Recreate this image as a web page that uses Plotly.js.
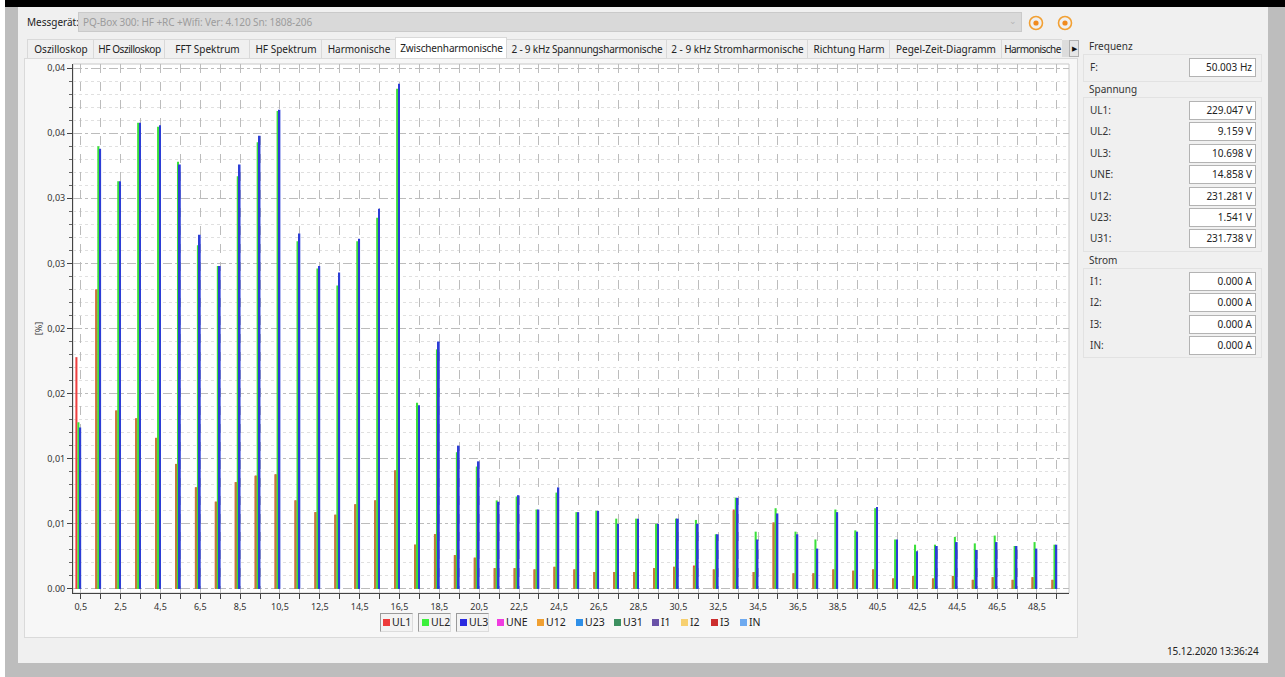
<!DOCTYPE html>
<html><head><meta charset="utf-8">
<script src="https://cdn.plot.ly/plotly-3.0.1.min.js"></script>
<style>
body{margin:0;width:1285px;height:677px;position:relative;overflow:hidden;background:#bdbdbd;font-family:"Noto Sans",sans-serif;font-size:10px;color:#222;}
.abs{position:absolute;}
#topbar{left:5px;top:0;width:1280px;height:7px;background:#000;}
#leftwhite{left:0;top:0;width:5px;height:677px;background:#fff;}
#win{left:18px;top:7px;width:1250px;height:656px;background:#f0f0f0;}
#combo{left:78px;top:12px;width:944px;height:20px;background:#d9d9d9;border:1px solid #cacaca;box-sizing:border-box;color:#9c9c9c;line-height:18px;padding-left:4px;white-space:nowrap;letter-spacing:-0.1px;}
#tabbar{left:0;top:0;width:1062px;height:60px;overflow:hidden;}
.tab{position:absolute;top:39px;height:20px;border:1px solid #d9d9d9;border-bottom:none;box-sizing:border-box;background:#f0f0f0;line-height:18px;white-space:nowrap;color:#222;overflow:hidden;}
.tab span{position:absolute;left:7px;top:0;}
.tab.sel{top:37px;height:22px;background:#fff;line-height:20px;}
#panel{left:24px;top:58px;width:1054px;height:580px;border:1px solid #dadada;box-sizing:border-box;background:#f7f7f7;}
#chart{left:24px;top:58px;width:1054px;height:580px;}
.gbox{border:1px solid #e2e2e2;box-sizing:border-box;}
.glabel{color:#333;line-height:14px;}
.rlabel{left:1090px;color:#333;line-height:15px;}
.tbox{left:1189px;width:67px;height:19px;background:#fff;border:1px solid #b3b3b3;box-sizing:border-box;text-align:right;padding-right:3px;line-height:17px;color:#222;}
.leg{top:614px;height:18px;line-height:17px;font-size:10.5px;color:#222;}
.legsq{position:absolute;width:7px;height:7px;top:5px;}
.legbox{top:613px;height:19px;border-top:1px solid #9a9a9a;border-left:1px solid #9a9a9a;border-right:1px solid #dcdcdc;border-bottom:1px solid #dcdcdc;box-sizing:border-box;background:#f3f3f3;}
</style></head><body>
<div id="leftwhite" class="abs"></div>
<div id="topbar" class="abs"></div>
<div id="win" class="abs"></div>
<div class="abs" style="left:27px;top:15px;line-height:14px;color:#222;">Messgerät:</div>
<div id="combo" class="abs">PQ-Box 300: HF +RC +Wifi: Ver: 4.120 Sn: 1808-206</div>
<div class="abs" style="left:1009px;top:14px;color:#b5b5b5;font-size:9px;">&#8964;</div>
<svg class="abs" style="left:1026px;top:13px;" width="50" height="20">
<circle cx="10" cy="10" r="6.5" fill="none" stroke="#f2a033" stroke-width="1.6"/><circle cx="10" cy="10" r="2.6" fill="#f08a1e"/>
<circle cx="39" cy="10" r="6.5" fill="none" stroke="#f2a033" stroke-width="1.6"/><circle cx="39" cy="10" r="2.6" fill="#f08a1e"/>
</svg>
<div id="tabbar" class="abs"></div>
<div class="abs" style="left:1062px;top:40px;width:7px;height:17px;background:#dcdcdc;"></div>
<div class="abs" style="left:1069px;top:40px;width:10px;height:17px;background:#e6e6e6;border:1px solid #b0b0b0;box-sizing:border-box;font-size:7px;line-height:15px;text-align:center;color:#111;">&#9654;</div>
<div id="panel" class="abs"></div>
<div id="chart" class="abs"></div>
<div id="legend"></div>
<div id="side"></div>
<div class="abs" style="left:1167px;top:644px;line-height:14px;color:#222;letter-spacing:-0.1px;">15.12.2020 13:36:24</div>
<script>
// ---- data ----
const groups = [0.5,1.5,2.5,3.5,4.5,5.5,6.5,7.5,8.5,9.5,10.5,11.5,12.5,13.5,14.5,15.5,16.5,17.5,18.5,19.5,20.5,21.5,22.5,23.5,24.5,25.5,26.5,27.5,28.5,29.5,30.5,31.5,32.5,33.5,34.5,35.5,36.5,37.5,38.5,39.5,40.5,41.5,42.5,43.5,44.5,45.5,46.5,47.5,48.5,49.5];
const xTickText = ["0,5","","2,5","","4,5","","6,5","","8,5","","10,5","","12,5","","14,5","","16,5","","18,5","","20,5","","22,5","","24,5","","26,5","","28,5","","30,5","","32,5","","34,5","","36,5","","38,5","","40,5","","42,5","","44,5","","46,5","","48,5",""];
const yTickVals = [0,0.005,0.01,0.015,0.02,0.025,0.03,0.035,0.04];
const yTickText = ["0.00","0,01","0,01","0,02","0,02","0,03","0,03","0,04","0,04"];
const yMinorVals = [0.001,0.002,0.003,0.004,0.006,0.007,0.008,0.009,0.011,0.012,0.013,0.014,0.016,0.017,0.018,0.019,0.021,0.022,0.023,0.024,0.026,0.027,0.028,0.029,0.031,0.032,0.033,0.034,0.036,0.037,0.038,0.039];
const ul1 = [0.0178,0.0230,0.0137,0.0131,0.0116,0.0096,0.0078,0.0067,0.0082,0.0087,0.0088,0.0068,0.0059,0.0057,0.0065,0.0068,0.0091,0.0034,0.0042,0.0026,0.0024,0.0016,0.0016,0.0015,0.0017,0.0015,0.0013,0.0013,0.0013,0.0016,0.0017,0.0018,0.0015,0.0061,0.0013,0.0051,0.0012,0.0012,0.0015,0.0014,0.0015,0.0008,0.0010,0.0008,0.0010,0.0007,0.0009,0.0007,0.0009,0.0007];
const u12 = [0,0.0230,0.0137,0.0131,0.0116,0.0096,0.0078,0.0067,0.0082,0.0087,0.0088,0.0068,0.0059,0.0057,0.0065,0.0068,0.0091,0.0034,0.0042,0.0026,0.0024,0.0016,0.0016,0.0015,0.0017,0.0015,0.0013,0.0013,0.0013,0.0016,0.0017,0.0017,0.0015,0.0060,0.0013,0.0051,0.0012,0.0012,0.0015,0.0014,0.0015,0.0008,0.0010,0.0008,0.0010,0.0007,0.0009,0.0007,0.0009,0.0007];
const ul2 = [0.0128,0.0340,0.0313,0.0358,0.0355,0.0328,0.0264,0.0248,0.0317,0.0343,0.0367,0.0267,0.0246,0.0233,0.0267,0.0285,0.0384,0.0143,0.0184,0.0105,0.0094,0.0068,0.0071,0.0061,0.0074,0.0059,0.0060,0.0054,0.0054,0.0050,0.0054,0.0053,0.0042,0.0070,0.0044,0.0062,0.0044,0.0038,0.0061,0.0045,0.0062,0.0038,0.0034,0.0034,0.0040,0.0035,0.0041,0.0033,0.0036,0.0034];
const ul3 = [0.0124,0.0338,0.0313,0.0358,0.0356,0.0326,0.0272,0.0248,0.0326,0.0348,0.0368,0.0273,0.0248,0.0243,0.0269,0.0292,0.0388,0.0141,0.0190,0.0110,0.0098,0.0067,0.0072,0.0061,0.0078,0.0059,0.0060,0.0050,0.0054,0.0050,0.0054,0.0050,0.0042,0.0070,0.0038,0.0058,0.0042,0.0031,0.0059,0.0044,0.0063,0.0038,0.0029,0.0033,0.0036,0.0030,0.0036,0.0033,0.0031,0.0034];
const legendNames = ["UL1","UL2","UL3","UNE","U12","U23","U31","I1","I2","I3","IN"];
const legendColors = ["#ee3a3a","#3cf03c","#2a2ae0","#f03ce0","#f0a032","#2f90e8","#3d9060","#6a52a8","#f7d070","#cc2e2e","#6eaaf0"];
const tabNames = ["Oszilloskop","HF Oszilloskop","FFT Spektrum","HF Spektrum","Harmonische","Zwischenharmonische","2 - 9 kHz Spannungsharmonische","2 - 9 kHz Stromharmonische","Richtung Harm","Pegel-Zeit-Diagramm","Harmonische"];
const freqRows = [["F:","50.003 Hz"]];
const voltRows = [["UL1:","229.047 V"],["UL2:","9.159 V"],["UL3:","10.698 V"],["UNE:","14.858 V"],["U12:","231.281 V"],["U23:","1.541 V"],["U31:","231.738 V"]];
const currRows = [["I1:","0.000 A"],["I2:","0.000 A"],["I3:","0.000 A"],["IN:","0.000 A"]];

// ---- UI (tabs, side panel, legend) ----
const tabEdges = [27,93,164,249,321,395,506,666,807,889,1001,1062];
let h='';
tabNames.forEach((t,i)=>{
  const sel = t==="Zwischenharmonische";
  h += `<div class="tab${sel?' sel':''}" style="left:${tabEdges[i]}px;width:${tabEdges[i+1]-tabEdges[i]+1}px;"><span>${t}</span></div>`;
});
document.getElementById('tabbar').innerHTML = h;
document.querySelectorAll('#tabbar .tab').forEach((el,i)=>{
  const sp = el.querySelector('span');
  const w = tabEdges[i+1]-tabEdges[i];
  const last = i===tabNames.length-1;
  const avail = last ? w-4 : w-8;
  let ls = 0;
  while(sp.getBoundingClientRect().width > avail && ls > -0.6){ ls -= 0.05; sp.style.letterSpacing = ls+'px'; }
  sp.style.left = (last ? 6 : Math.max(3,(w-sp.getBoundingClientRect().width)/2))+'px';
  if(last && sp.getBoundingClientRect().width > w-6) sp.style.left = Math.max(1,(w-sp.getBoundingClientRect().width)/2)+'px';
});

const pitch = 21.4;
function row(lbl, val, cy){
  return `<div class="abs rlabel" style="top:${(cy-7.5).toFixed(1)}px;">${lbl}</div><div class="abs tbox" style="top:${(cy-9.5).toFixed(1)}px;">${val}</div>`;
}
let s='';
s += `<div class="abs gbox" style="left:1083px;top:54px;width:179px;height:28px;"></div>`;
s += `<div class="abs glabel" style="left:1089px;top:39px;">Frequenz</div>`;
freqRows.forEach((r,i)=>{ s += row(r[0], r[1], 67.5 + i*pitch); });
s += `<div class="abs gbox" style="left:1083px;top:97px;width:179px;height:155px;"></div>`;
s += `<div class="abs glabel" style="left:1089px;top:82px;">Spannung</div>`;
voltRows.forEach((r,i)=>{ s += row(r[0], r[1], 110.5 + i*pitch); });
s += `<div class="abs gbox" style="left:1083px;top:268px;width:179px;height:90px;"></div>`;
s += `<div class="abs glabel" style="left:1089px;top:253px;">Strom</div>`;
currRows.forEach((r,i)=>{ s += row(r[0], r[1], 281.5 + i*pitch); });
document.getElementById('side').innerHTML = s;

const legSq = [383,422,460,497,537,576,614,652,681,711,740];
let l='';
[[380,413],[418,451],[456,489]].forEach(b=>{ l += `<div class="abs legbox" style="left:${b[0]}px;width:${b[1]-b[0]}px;"></div>`; });
legendNames.forEach((n,i)=>{
  l += `<div class="abs leg" style="left:${legSq[i]}px;"><span class="legsq" style="left:0;background:${legendColors[i]};"></span><span style="position:absolute;left:9px;">${n}</span></div>`;
});
document.getElementById('legend').innerHTML = l;

// ---- chart ----
function bar(name, y, color, offset, width){
  return {type:'bar', name:name, x:groups, y:y, offset:offset, width:width,
          marker:{color:color, line:{width:0}}, showlegend:false, hoverinfo:'name+y'};
}
const traces = [
  bar('UL1', ul1, '#ee4040', -0.27, 0.103),
  bar('U12', u12, '#c27c38', -0.27, 0.103),
  bar('UL2', ul2, '#3ae03a', -0.17, 0.103),
  bar('UL3', ul3, '#2c3ed6', -0.07, 0.09)
];
const layout = {
  width:1054, height:580,
  margin:{l:49, r:9, t:6, b:45},
  paper_bgcolor:'rgba(0,0,0,0)', plot_bgcolor:'#ffffff',
  barmode:'overlay', showlegend:false,
  font:{family:'Noto Sans, sans-serif', size:9, color:'#333'},
  xaxis:{range:[0.11,50.11], tickmode:'array', tickvals:groups, ticktext:xTickText,
         ticks:'outside', ticklen:5, tickcolor:'#444', tickwidth:1,
         showline:true, linecolor:'#444', linewidth:1,
         showgrid:true, gridcolor:'#bcbcbc', griddash:'dash', gridwidth:1,
         zeroline:false, fixedrange:true},
  yaxis:{range:[-0.00031,0.04031], tickmode:'array', tickvals:yTickVals, ticktext:yTickText,
         ticks:'outside', ticklen:5, tickcolor:'#444', tickwidth:1,
         showline:true, linecolor:'#444', linewidth:1,
         showgrid:true, gridcolor:'#bcbcbc', griddash:'dashdot', gridwidth:1,
         zeroline:false, fixedrange:true,
         title:{text:'[%]', font:{size:9, color:'#333'}, standoff:3},
         minor:{tickmode:'array', tickvals:yMinorVals, ticks:'outside', ticklen:3, tickcolor:'#666',
                showgrid:true, gridcolor:'#e0e0e0', griddash:'dot', gridwidth:1}},
  shapes:[{type:'rect', xref:'paper', yref:'paper', x0:0, x1:1, y0:0, y1:1,
           line:{color:'#c8c8c8', width:1}, layer:'below'}]
};
Plotly.newPlot('chart', traces, layout, {displayModeBar:false, responsive:false});
</script>
</body></html>
